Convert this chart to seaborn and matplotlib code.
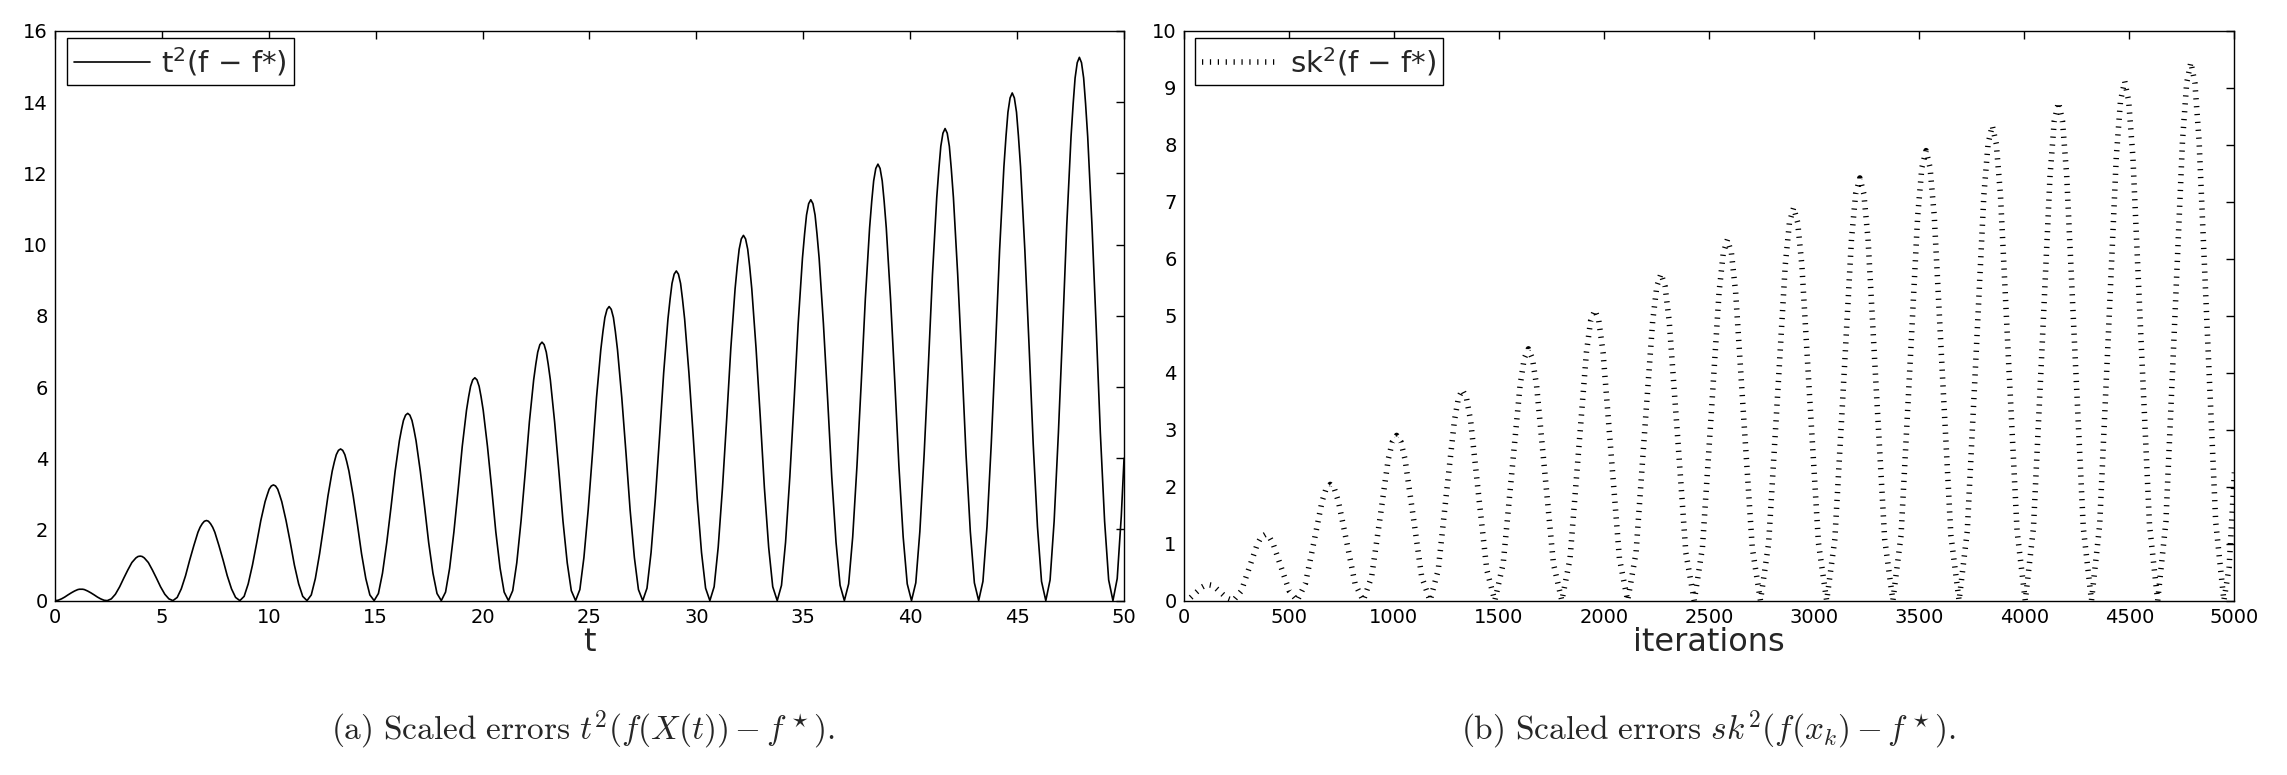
import matplotlib
matplotlib.use("Agg")
import matplotlib.pyplot as plt
import seaborn as sns
import pandas as pd

# (a) continuous curve t^2 (f(X(t)) - f*)
t_a = [
    0.00, 0.15, 0.31, 0.46, 0.61, 0.77, 0.92, 1.00, 1.07, 1.15, 1.23, 1.30, 1.38, 1.45, 1.53, 1.68, 1.84, 1.99, 2.14, 2.30,
    2.45, 2.64, 2.83, 3.03, 3.22, 3.41, 3.60, 3.70, 3.79, 3.89, 3.99, 4.08, 4.18, 4.27, 4.37, 4.56, 4.75, 4.94, 5.14, 5.33,
    5.52, 5.72, 5.91, 6.11, 6.30, 6.50, 6.69, 6.79, 6.89, 6.99, 7.09, 7.18, 7.28, 7.38, 7.48, 7.67, 7.87, 8.06, 8.26, 8.45,
    8.65, 8.85, 9.04, 9.24, 9.44, 9.63, 9.83, 9.93, 10.02, 10.12, 10.22, 10.32, 10.42, 10.51, 10.61, 10.81, 11.01, 11.20, 11.40, 11.59,
    11.79, 11.99, 12.18, 12.38, 12.58, 12.77, 12.97, 13.07, 13.16, 13.26, 13.36, 13.46, 13.56, 13.65, 13.75, 13.95, 14.15, 14.34, 14.54, 14.73,
    14.93, 15.13, 15.32, 15.52, 15.72, 15.91, 16.11, 16.21, 16.30, 16.40, 16.50, 16.60, 16.70, 16.79, 16.89, 17.09, 17.29, 17.48, 17.68, 17.87,
    18.07, 18.27, 18.46, 18.66, 18.86, 19.05, 19.25, 19.35, 19.44, 19.54, 19.64, 19.74, 19.84, 19.93, 20.03, 20.23, 20.43, 20.62, 20.82, 21.01,
    21.21, 21.41, 21.60, 21.80, 22.00, 22.19, 22.39, 22.49, 22.58, 22.68, 22.78, 22.88, 22.98, 23.07, 23.17, 23.37, 23.57, 23.76, 23.96, 24.15,
    24.35, 24.55, 24.74, 24.94, 25.14, 25.33, 25.53, 25.63, 25.72, 25.82, 25.92, 26.02, 26.12, 26.21, 26.31, 26.51, 26.71, 26.90, 27.10, 27.29,
    27.49, 27.69, 27.88, 28.08, 28.28, 28.47, 28.67, 28.77, 28.86, 28.96, 29.06, 29.16, 29.26, 29.35, 29.45, 29.65, 29.85, 30.04, 30.24, 30.43,
    30.63, 30.83, 31.02, 31.22, 31.42, 31.61, 31.81, 31.91, 32.00, 32.10, 32.20, 32.30, 32.40, 32.49, 32.59, 32.79, 32.99, 33.18, 33.38, 33.57,
    33.78, 33.98, 34.17, 34.37, 34.57, 34.76, 34.96, 35.06, 35.15, 35.25, 35.35, 35.45, 35.55, 35.64, 35.74, 35.94, 36.14, 36.33, 36.53, 36.72,
    36.92, 37.12, 37.31, 37.51, 37.71, 37.90, 38.10, 38.20, 38.29, 38.39, 38.49, 38.59, 38.69, 38.78, 38.88, 39.08, 39.28, 39.47, 39.67, 39.86,
    40.06, 40.26, 40.45, 40.65, 40.85, 41.04, 41.24, 41.34, 41.43, 41.53, 41.63, 41.73, 41.83, 41.92, 42.02, 42.22, 42.42, 42.61, 42.81, 43.00,
    43.20, 43.40, 43.59, 43.79, 43.99, 44.18, 44.38, 44.48, 44.57, 44.67, 44.77, 44.87, 44.97, 45.06, 45.16, 45.36, 45.56, 45.75, 45.95, 46.14,
    46.34, 46.54, 46.73, 46.93, 47.13, 47.32, 47.52, 47.62, 47.71, 47.81, 47.91, 48.01, 48.11, 48.20, 48.30, 48.50, 48.70, 48.89, 49.09, 49.28,
    49.48, 49.68, 49.87, 50.00,
]
err_a = [
    0.00, 0.01, 0.05, 0.10, 0.16, 0.22, 0.27, 0.29, 0.31, 0.32, 0.32, 0.32, 0.31, 0.29, 0.27, 0.22, 0.16, 0.10, 0.05, 0.01,
    0.00, 0.05, 0.18, 0.39, 0.63, 0.86, 1.07, 1.14, 1.20, 1.24, 1.25, 1.24, 1.20, 1.14, 1.07, 0.86, 0.63, 0.39, 0.18, 0.05,
    0.00, 0.09, 0.33, 0.70, 1.13, 1.55, 1.92, 2.06, 2.16, 2.23, 2.25, 2.23, 2.16, 2.06, 1.92, 1.55, 1.13, 0.70, 0.33, 0.09,
    0.00, 0.12, 0.47, 1.00, 1.63, 2.25, 2.78, 2.97, 3.13, 3.22, 3.25, 3.22, 3.13, 2.97, 2.78, 2.25, 1.63, 1.00, 0.47, 0.12,
    0.00, 0.16, 0.62, 1.32, 2.13, 2.94, 3.64, 3.90, 4.10, 4.22, 4.26, 4.22, 4.10, 3.90, 3.64, 2.94, 2.13, 1.32, 0.62, 0.16,
    0.00, 0.20, 0.77, 1.63, 2.63, 3.63, 4.49, 4.81, 5.06, 5.21, 5.26, 5.21, 5.06, 4.81, 4.49, 3.63, 2.63, 1.63, 0.77, 0.20,
    0.00, 0.24, 0.91, 1.93, 3.13, 4.33, 5.35, 5.73, 6.02, 6.20, 6.26, 6.20, 6.02, 5.73, 5.35, 4.33, 3.13, 1.93, 0.91, 0.24,
    0.00, 0.28, 1.06, 2.24, 3.63, 5.02, 6.20, 6.64, 6.98, 7.19, 7.26, 7.19, 6.98, 6.64, 6.20, 5.02, 3.63, 2.24, 1.06, 0.28,
    0.00, 0.31, 1.21, 2.55, 4.13, 5.71, 7.05, 7.56, 7.95, 8.18, 8.26, 8.18, 7.95, 7.56, 7.05, 5.71, 4.13, 2.55, 1.21, 0.31,
    0.00, 0.35, 1.35, 2.86, 4.63, 6.40, 7.91, 8.47, 8.91, 9.17, 9.26, 9.17, 8.91, 8.47, 7.91, 6.40, 4.63, 2.86, 1.35, 0.35,
    0.00, 0.39, 1.50, 3.17, 5.13, 7.09, 8.76, 9.39, 9.87, 10.16, 10.26, 10.16, 9.87, 9.39, 8.76, 7.09, 5.13, 3.17, 1.50, 0.39,
    0.00, 0.43, 1.64, 3.48, 5.63, 7.78, 9.62, 10.30, 10.83, 11.15, 11.26, 11.15, 10.83, 10.30, 9.62, 7.78, 5.63, 3.48, 1.64, 0.43,
    0.00, 0.47, 1.79, 3.79, 6.13, 8.47, 10.47, 11.22, 11.79, 12.14, 12.26, 12.14, 11.79, 11.22, 10.47, 8.47, 6.13, 3.79, 1.79, 0.47,
    0.00, 0.50, 1.94, 4.10, 6.63, 9.16, 11.32, 12.13, 12.76, 13.13, 13.26, 13.13, 12.76, 12.13, 11.32, 9.16, 6.63, 4.10, 1.94, 0.50,
    0.00, 0.54, 2.08, 4.41, 7.13, 9.85, 12.18, 13.05, 13.72, 14.12, 14.26, 14.12, 13.72, 13.05, 12.18, 9.85, 7.13, 4.41, 2.08, 0.54,
    0.00, 0.58, 2.23, 4.72, 7.63, 10.54, 13.03, 13.96, 14.68, 15.11, 15.26, 15.11, 14.68, 13.96, 13.03, 10.54, 7.63, 4.72, 2.23, 0.58,
    0.00, 0.62, 2.37, 4.00,
]

# (b) discrete iterates s k^2 (f(x_k) - f*)
k_b = [
    0, 30, 59, 89, 104, 119, 133, 148, 178, 207,
    237, 275, 313, 351, 370, 389, 408, 427, 465, 503,
    541, 580, 620, 659, 678, 698, 718, 737, 777, 816,
    855, 895, 935, 974, 994, 1014, 1034, 1054, 1094, 1133,
    1173, 1212, 1250, 1289, 1308, 1327, 1346, 1366, 1404, 1443,
    1481, 1521, 1561, 1601, 1621, 1641, 1660, 1680, 1720, 1760,
    1800, 1839, 1878, 1917, 1937, 1957, 1976, 1996, 2035, 2074,
    2113, 2153, 2192, 2232, 2252, 2272, 2291, 2311, 2351, 2390,
    2430, 2469, 2509, 2548, 2568, 2588, 2607, 2627, 2666, 2706,
    2745, 2784, 2824, 2863, 2883, 2903, 2922, 2942, 2981, 3021,
    3060, 3099, 3139, 3178, 3198, 3218, 3237, 3257, 3296, 3336,
    3375, 3414, 3454, 3493, 3513, 3533, 3552, 3572, 3611, 3651,
    3690, 3729, 3769, 3808, 3828, 3848, 3867, 3887, 3926, 3966,
    4005, 4044, 4084, 4123, 4143, 4163, 4182, 4202, 4241, 4281,
    4320, 4359, 4399, 4438, 4458, 4478, 4497, 4517, 4556, 4596,
    4635, 4674, 4714, 4753, 4773, 4793, 4812, 4832, 4871, 4911,
    4950, 4975, 5000,
]
err_b = [
    0.00, 0.04, 0.14, 0.24, 0.27, 0.28, 0.27, 0.24, 0.14, 0.04,
    0.00, 0.17, 0.58, 0.99, 1.12, 1.16, 1.12, 0.99, 0.58, 0.17,
    0.00, 0.30, 1.02, 1.74, 1.96, 2.04, 1.96, 1.74, 1.02, 0.30,
    0.00, 0.42, 1.45, 2.48, 2.79, 2.90, 2.79, 2.48, 1.45, 0.42,
    0.00, 0.54, 1.85, 3.16, 3.56, 3.70, 3.56, 3.16, 1.85, 0.54,
    0.00, 0.65, 2.21, 3.77, 4.25, 4.42, 4.25, 3.77, 2.21, 0.65,
    0.00, 0.74, 2.55, 4.36, 4.91, 5.10, 4.91, 4.36, 2.55, 0.74,
    0.00, 0.84, 2.87, 4.90, 5.52, 5.74, 5.52, 4.90, 2.87, 0.84,
    0.00, 0.93, 3.17, 5.41, 6.10, 6.34, 6.10, 5.41, 3.17, 0.93,
    0.00, 1.01, 3.45, 5.89, 6.64, 6.90, 6.64, 5.89, 3.45, 1.01,
    0.00, 1.08, 3.71, 6.34, 7.14, 7.42, 7.14, 6.34, 3.71, 1.08,
    0.00, 1.15, 3.95, 6.75, 7.60, 7.90, 7.60, 6.75, 3.95, 1.15,
    0.00, 1.22, 4.17, 7.12, 8.02, 8.34, 8.02, 7.12, 4.17, 1.22,
    0.00, 1.28, 4.38, 7.47, 8.42, 8.75, 8.42, 7.47, 4.38, 1.28,
    0.00, 1.33, 4.56, 7.79, 8.77, 9.12, 8.77, 7.79, 4.56, 1.33,
    0.00, 1.38, 4.73, 8.07, 9.09, 9.45, 9.09, 8.07, 4.73, 1.38,
    0.00, 0.59, 2.25,
]

xticks_a = list(range(0, 51, 5))
yticks_a = list(range(0, 17, 2))
xticks_b = list(range(0, 5001, 500))
yticks_b = list(range(0, 11, 1))

label_a = r"t$^2$(f $-$ f*)"
label_b = r"sk$^2$(f $-$ f*)"
caption_a = r"$\mathrm{(a)\ Scaled\ errors\ }t^2(f(X(t))-f^\star).$"
caption_b = r"$\mathrm{(b)\ Scaled\ errors\ }sk^2(f(x_k)-f^\star).$"

sns.set_style("white")
plt.rcParams["font.family"] = ["DejaVu Sans"]
plt.rcParams["axes.edgecolor"] = "black"
plt.rcParams["axes.linewidth"] = 1.0

df_a = pd.DataFrame({"t": t_a, "err": err_a})
df_b = pd.DataFrame({"k": k_b, "err": err_b})

fig = plt.figure(figsize=(22.87, 7.75), dpi=100)
ax_a = fig.add_axes([0.024, 0.225, 0.4675, 0.735])
ax_b = fig.add_axes([0.5175, 0.225, 0.4595, 0.735])

sns.lineplot(data=df_a, x="t", y="err", ax=ax_a, sort=False, estimator=None,
             color="black", linewidth=1.2, label=label_a)
sns.lineplot(data=df_b, x="k", y="err", ax=ax_b, sort=False, estimator=None,
             color="black", linewidth=4.0, linestyle=(0, (0.22, 1.2)),
             label=label_b)

panels = [
    (ax_a, xticks_a, yticks_a, "t"),
    (ax_b, xticks_b, yticks_b, "iterations"),
]
for ax, xt, yt, xlab in panels:
    ax.set_xlim(xt[0], xt[-1])
    ax.set_ylim(yt[0], yt[-1])
    ax.set_xticks(xt)
    ax.set_yticks(yt)
    ax.tick_params(direction="in", top=True, right=True, length=6, width=1,
                   labelsize=14, pad=5, colors="black")
    ax.set_xlabel(xlab, fontsize=23, labelpad=0)
    ax.set_ylabel("")
    for sp in ax.spines.values():
        sp.set_visible(True)
        sp.set_color("black")
    leg = ax.legend(loc="upper left", bbox_to_anchor=(0.011, 0.988),
                    borderaxespad=0, fontsize=21, handlelength=2.6,
                    handletextpad=0.4, borderpad=0.25, fancybox=False,
                    framealpha=1, edgecolor="black")
    leg.get_frame().set_linewidth(1.0)

fig.text(0.255, 0.058, caption_a, ha="center", va="center", fontsize=24,
         math_fontfamily="cm")
fig.text(0.747, 0.058, caption_b, ha="center", va="center", fontsize=24,
         math_fontfamily="cm")

fig.savefig("out.png", dpi=100)
